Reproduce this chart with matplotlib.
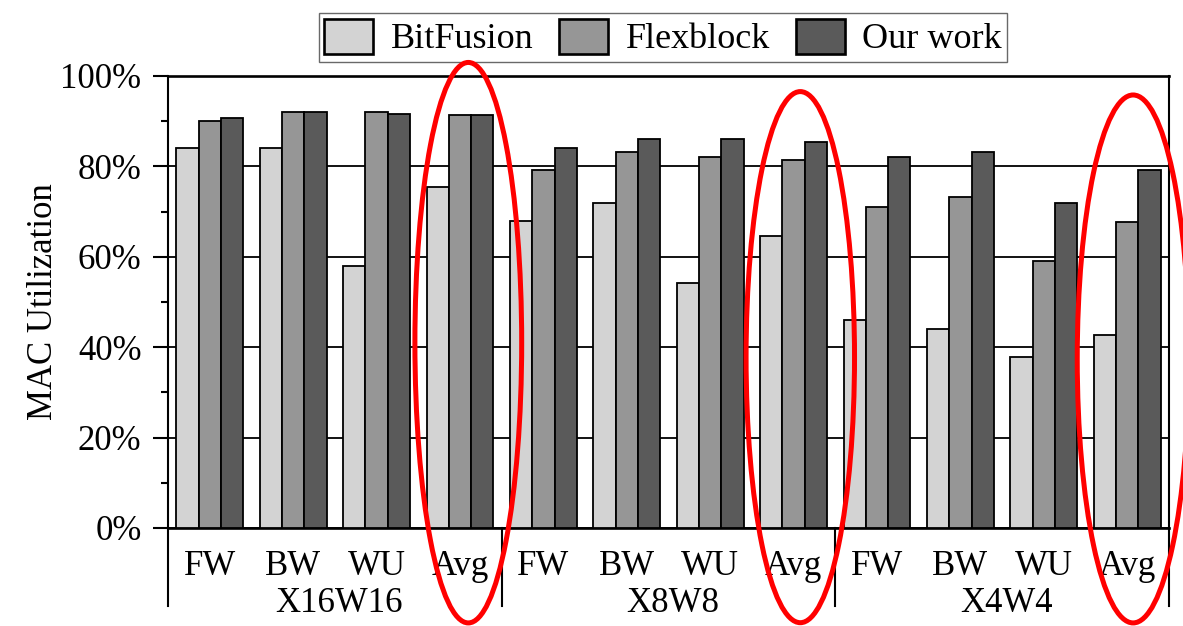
import matplotlib
matplotlib.use("Agg")
import matplotlib.pyplot as plt
from matplotlib.patches import Ellipse
from matplotlib.ticker import FixedLocator
import numpy as np

plt.rcParams['font.family'] = ['Liberation Serif', 'DejaVu Serif']

# ---- data ----
categories = ["FW", "BW", "WU", "Avg"] * 3
groups = ["X16W16", "X8W8", "X4W4"]
series_names = ["BitFusion", "Flexblock", "Our work"]
bitfusion = [84.1, 84.1, 58.0, 75.4, 68.0, 72.0, 54.1, 64.7, 46.0, 44.0, 37.9, 42.6]
flexblock = [90.0, 92.1, 92.1, 91.4, 79.1, 83.1, 82.0, 81.4, 71.1, 73.2, 59.1, 67.7]
our_work = [90.6, 92.1, 91.7, 91.4, 84.1, 86.1, 86.1, 85.4, 82.0, 83.1, 72.0, 79.1]
yticks = [0, 20, 40, 60, 80, 100]
ytick_labels = ["0%", "20%", "40%", "60%", "80%", "100%"]

colors = ["#d3d3d3", "#969696", "#5a5a5a"]
FS = 25

fig = plt.figure(figsize=(11.83, 6.26), dpi=100)
ax = fig.add_axes([168 / 1183, 1 - 528 / 626, (1169 - 168) / 1183, (528 - 76) / 626])

x = np.arange(len(categories))
w = 0.267
series = [bitfusion, flexblock, our_work]
for i, (vals, name, c) in enumerate(zip(series, series_names, colors)):
    ax.bar(x + (i - 1) * w, vals, width=w, color=c, edgecolor="black",
           linewidth=1.3, label=name, zorder=3)

ax.set_xlim(-0.5, len(categories) - 0.5)
ax.set_ylim(0, 100)
ax.set_yticks(yticks)
ax.set_yticklabels(ytick_labels, fontsize=FS)
ax.yaxis.set_minor_locator(FixedLocator([10, 30, 50, 70, 90]))
ax.tick_params(axis="y", which="major", direction="out", length=11, width=1.5, pad=8)
ax.tick_params(axis="y", which="minor", direction="out", length=5, width=1.5)
ax.set_xticks([])
ax.yaxis.grid(True, color="black", linewidth=1.3, zorder=0)
ax.set_axisbelow(True)

for s in ["left", "right"]:
    ax.spines[s].set_linewidth(1.5)
for s in ["top", "bottom"]:
    ax.spines[s].set_linewidth(1.9)

ax.set_ylabel("MAC Utilization", fontsize=FS)
ax.yaxis.set_label_coords(-0.108, 0.5)

# category labels
trans = ax.get_xaxis_transform()
for xi, lab in zip(x, categories):
    ax.text(xi, -0.104, lab, transform=trans, ha="center", va="baseline", fontsize=FS)

# group labels and separators
n_per = 4
for gi, g in enumerate(groups):
    center = gi * n_per + (n_per - 1) / 2
    ax.text(center + 0.05, -0.186, g, transform=trans, ha="center", va="baseline", fontsize=FS)
for b in range(len(groups) + 1):
    xb = b * n_per - 0.5
    ax.plot([xb, xb], [0, -0.173], transform=trans, color="black",
            linewidth=1.5, clip_on=False, zorder=5)

# red ellipses around the Avg groups
ell_specs = [(3.1, 41.0, 1.28, 124.0), (7.08, 37.8, 1.30, 117.5), (11.07, 37.4, 1.34, 116.8)]
for (cx, cy, ew, eh) in ell_specs:
    e = Ellipse((cx, cy), ew, eh, fill=False, edgecolor="#ff0000", linewidth=3.6,
                clip_on=False, zorder=10)
    ax.add_patch(e)

leg = ax.legend(loc="upper center", bbox_to_anchor=(0.4945, 1.139), ncol=3,
                fontsize=26, frameon=True, fancybox=False, borderpad=0.15,
                handlelength=1.36, handleheight=1.12, handletextpad=0.48,
                columnspacing=0.72, borderaxespad=0)
leg.get_frame().set_edgecolor("#444444")
leg.get_frame().set_linewidth(1.0)
for h in leg.legend_handles:
    h.set_linewidth(1.9)

fig.savefig("out.png", dpi=100)
